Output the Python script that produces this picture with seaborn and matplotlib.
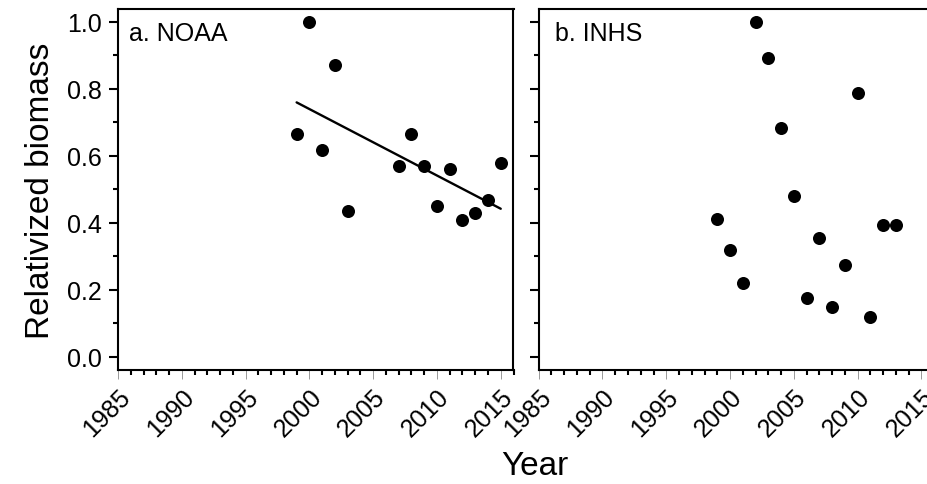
import matplotlib
matplotlib.use("Agg")
import matplotlib.pyplot as plt
from matplotlib.ticker import MultipleLocator
import seaborn as sns
import pandas as pd
import numpy as np

# ---- data ----
noaa_years = [1999, 2000, 2001, 2002, 2003, 2007, 2008, 2009, 2010, 2011, 2012, 2013, 2014, 2015]
noaa_biomass = [0.665, 1.000, 0.618, 0.871, 0.435, 0.570, 0.665, 0.570, 0.449, 0.561, 0.408, 0.428, 0.467, 0.579]

inhs_years = [1999, 2000, 2001, 2002, 2003, 2004, 2005, 2006, 2007, 2008, 2009, 2010, 2011, 2012, 2013]
inhs_biomass = [0.410, 0.318, 0.219, 1.000, 0.892, 0.683, 0.480, 0.176, 0.355, 0.147, 0.273, 0.786, 0.119, 0.394, 0.394]

panel_labels = ["a. NOAA", "b. INHS"]
x_ticks = [1985, 1990, 1995, 2000, 2005, 2010, 2015]
y_ticks = [0.0, 0.2, 0.4, 0.6, 0.8, 1.0]

noaa = pd.DataFrame({"Year": noaa_years, "Biomass": noaa_biomass})
inhs = pd.DataFrame({"Year": inhs_years, "Biomass": inhs_biomass})

sns.set_style("ticks")
plt.rcParams["font.family"] = ["Liberation Sans", "DejaVu Sans"]
plt.rcParams["text.color"] = "black"
plt.rcParams["axes.labelcolor"] = "black"

W, H = 928, 485
fig = plt.figure(figsize=(W / 100, H / 100), dpi=100)

def rect(left_px, right_px, top_px, bottom_px):
    return [left_px / W, (H - bottom_px) / H, (right_px - left_px) / W, (bottom_px - top_px) / H]

ax1 = fig.add_axes(rect(118, 513.5, 10, 370.7))
ax2 = fig.add_axes(rect(538.7, 934.2, 10, 370.7), sharey=ax1)

marker_kw = dict(color="black", s=88, edgecolor="black", linewidth=0, zorder=3)

sns.scatterplot(data=noaa, x="Year", y="Biomass", ax=ax1, **marker_kw)
sns.regplot(data=noaa, x="Year", y="Biomass", ax=ax1, ci=None, scatter=False,
            truncate=True, line_kws=dict(color="black", lw=1.7))
sns.scatterplot(data=inhs, x="Year", y="Biomass", ax=ax2, **marker_kw)

for i, ax in enumerate([ax1, ax2]):
    ax.set_xlim(1985, 2016)
    ax.set_ylim(-0.039, 1.038)
    ax.set_xticks(x_ticks)
    ax.set_yticks(y_ticks)
    ax.xaxis.set_minor_locator(MultipleLocator(1))
    ax.yaxis.set_minor_locator(MultipleLocator(0.1))
    for sp in ax.spines.values():
        sp.set_visible(True)
        sp.set_linewidth(1.5)
        sp.set_color("black")
    ax.tick_params(axis="x", which="major", direction="out", length=6.5, width=0.7,
                   color="#999999", labelcolor="black", labelsize=18, pad=4)
    ax.tick_params(axis="x", which="minor", direction="out", length=3.8, width=1.5, color="black")
    ax.tick_params(axis="y", which="major", direction="out", length=6.5, width=1.5,
                   color="black", labelcolor="black", labelsize=18, pad=5)
    ax.tick_params(axis="y", which="minor", direction="out", length=3.6, width=1.5, color="black")
    ax.set_xticklabels([str(t) for t in x_ticks])
    for lab in ax.get_xticklabels():
        lab.set_rotation(45)
        lab.set_ha("right")
        lab.set_va("top")
        lab.set_rotation_mode("anchor")
    ax.set_xlabel("")
    ax.set_ylabel("")
    ax.text(0.028 if i == 0 else 0.04, 0.967, panel_labels[i], transform=ax.transAxes,
            ha="left", va="top", fontsize=18, color="black")

ax1.set_yticklabels([f"{t:.1f}" for t in y_ticks])
ax2.tick_params(axis="y", which="both", labelleft=False)

ax1.set_ylabel("Relativized biomass", fontsize=24, labelpad=8, color="black")
fig.text(535 / W, (H - 467) / H, "Year", fontsize=24, ha="center", va="center", color="black")

fig.savefig("out.png", dpi=100)
